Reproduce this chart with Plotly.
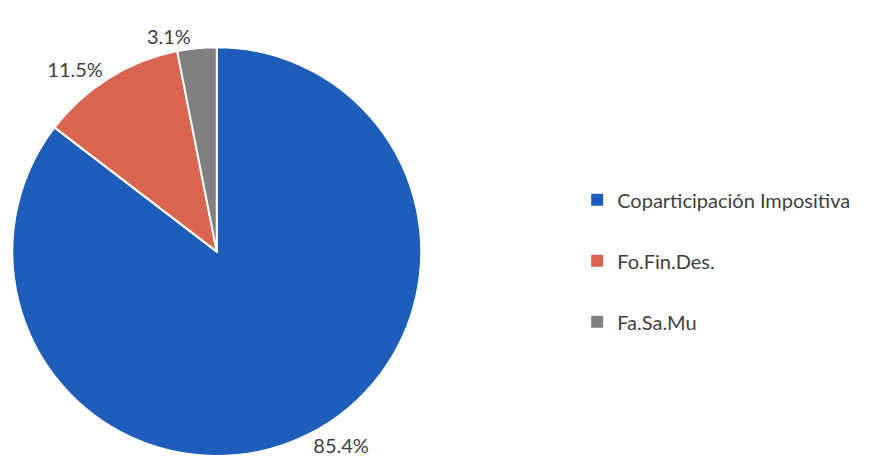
import plotly.graph_objects as go

labels = ["Coparticipación Impositiva", "Fo.Fin.Des.", "Fa.Sa.Mu"]
values = [85.4, 11.5, 3.1]
colors = ["#1F5DBA", "#D9644F", "#808080"]

fig = go.Figure()
fig.add_trace(go.Pie(
    labels=labels, values=values, sort=False, direction="clockwise", rotation=0,
    marker=dict(colors=colors, line=dict(color="white", width=2)),
    textinfo="percent", texttemplate="%{percent:.1%}", textposition="outside",
    outsidetextfont=dict(family="Lato", size=20, color="#404040"),
    showlegend=False,
    domain=dict(x=[0.005, 0.4755], y=[0.0417, 0.917]),
))
for lab, col in zip(labels, colors):
    fig.add_trace(go.Scatter(
        x=[None], y=[None], mode="markers", name=lab, legendgroup=lab,
        marker=dict(symbol="square", size=8, color=col),
    ))

fig.update_layout(
    width=869, height=468,
    margin=dict(l=0, r=0, t=0, b=0),
    paper_bgcolor="white", plot_bgcolor="white",
    xaxis=dict(visible=False), yaxis=dict(visible=False),
    legend=dict(x=0.655, y=0.632, xanchor="left", yanchor="top",
                font=dict(family="Lato", size=20, color="#404040"),
                tracegroupgap=32, itemsizing="constant", bgcolor="rgba(0,0,0,0)"),
)
fig.write_html("out.html")
